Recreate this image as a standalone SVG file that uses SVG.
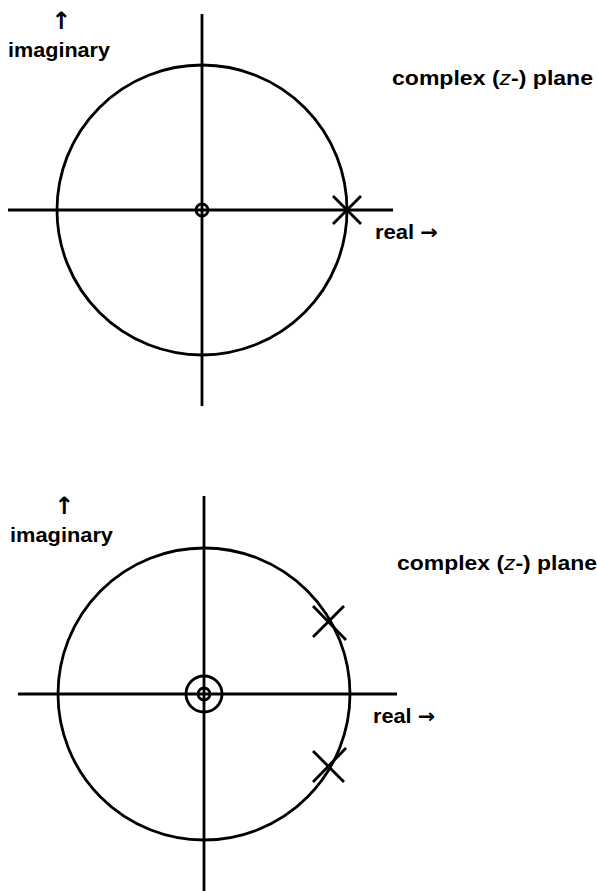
<svg xmlns="http://www.w3.org/2000/svg" width="597" height="891" viewBox="0 0 597 891">
<style>
.ln{stroke:#000;stroke-width:2.8;fill:none;stroke-linecap:butt}
.t{font-family:"Liberation Sans",Arial,sans-serif;font-weight:bold;font-size:21px;fill:#000}
.ar{font-family:"DejaVu Sans",sans-serif;font-weight:bold;font-size:24px;fill:#000}
.ra{font-family:"DejaVu Sans",sans-serif;font-size:20px}
</style>
<rect width="597" height="891" fill="#fff"/>
<g id="plane1">
  <g id="axes1">
    <line class="ln" x1="202" y1="14" x2="202" y2="406"/>
    <line class="ln" x1="8" y1="210" x2="393" y2="210"/>
  </g>
  <circle id="unit1" class="ln" cx="202" cy="210" r="145"/>
  <g id="zero1"><circle class="ln" cx="202" cy="210" r="6"/></g>
  <g id="pole1" class="ln"><line x1="333" y1="196" x2="361" y2="224"/><line x1="361" y1="196" x2="333" y2="224"/></g>
  <g id="labels1">
    <text class="ar" x="61" y="29" text-anchor="middle">↑</text>
    <text class="t" x="8" y="57" textLength="102" lengthAdjust="spacingAndGlyphs">imaginary</text>
    <text class="t" x="392" y="85" textLength="201" lengthAdjust="spacingAndGlyphs">complex (<tspan font-style="italic" font-weight="normal">z</tspan>-) plane</text>
    <text class="t" x="375" y="239" textLength="63" lengthAdjust="spacingAndGlyphs">real <tspan class="ra">→</tspan></text>
  </g>
</g>
<g id="plane2">
  <g id="axes2">
    <line class="ln" x1="204" y1="496" x2="204" y2="891"/>
    <line class="ln" x1="18" y1="694" x2="397" y2="694"/>
  </g>
  <circle id="unit2" class="ln" cx="204" cy="694" r="146"/>
  <g id="zero2"><circle class="ln" cx="204" cy="694" r="6"/><circle class="ln" cx="204" cy="694" r="18"/></g>
  <g id="pole2a" class="ln"><line x1="313" y1="606" x2="346" y2="640"/><line x1="344" y1="606" x2="313" y2="637"/></g>
  <g id="pole2b" class="ln"><line x1="313" y1="782" x2="346" y2="748"/><line x1="344" y1="782" x2="313" y2="751"/></g>
  <g id="labels2">
    <text class="ar" x="64" y="514" text-anchor="middle">↑</text>
    <text class="t" x="10" y="542" textLength="103" lengthAdjust="spacingAndGlyphs">imaginary</text>
    <text class="t" x="397" y="570" textLength="200" lengthAdjust="spacingAndGlyphs">complex (<tspan font-style="italic" font-weight="normal">z</tspan>-) plane</text>
    <text class="t" x="373" y="723" textLength="62" lengthAdjust="spacingAndGlyphs">real <tspan class="ra">→</tspan></text>
  </g>
</g>
</svg>
